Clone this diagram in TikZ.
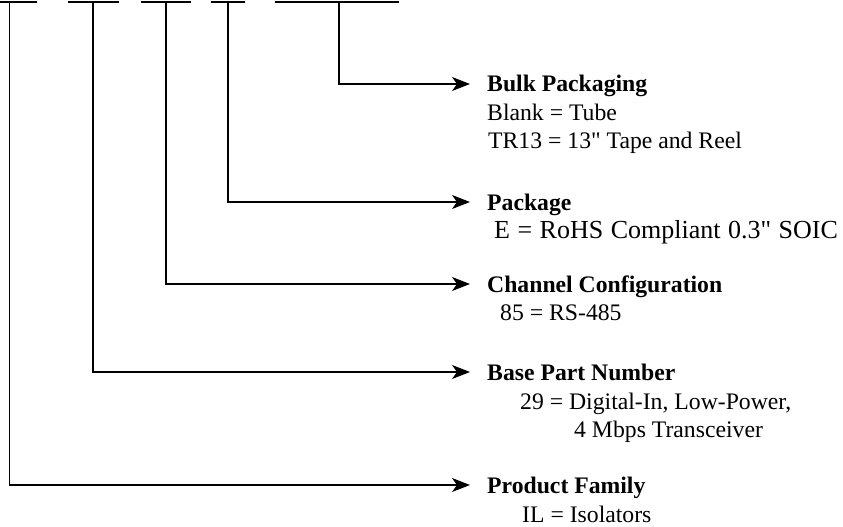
\documentclass[tikz,border=0pt]{standalone}
\usepackage{fontspec}
\setmainfont{Liberation Serif}[Ligatures=TeXOff]
\usetikzlibrary{arrows.meta}
\begin{document}
\begin{tikzpicture}[x=1pt,y=-1pt,
  lead/.style={line width=1.3pt,line cap=butt},
  conn/.style={line width=1.3pt,-{Stealth[length=18pt,width=14pt,inset=5pt]}},
  title/.style={anchor=base west,inner sep=0pt,font=\fontsize{23.7}{28}\selectfont\bfseries},
  desc/.style={anchor=base west,inner sep=0pt,font=\fontsize{23.7}{28}\selectfont}]
\useasboundingbox (0,0) rectangle (843,527);
% part-number blanks
\draw[lead] (0,2) -- (37,2);
\draw[lead] (68,2) -- (119,2);
\draw[lead] (141,2) -- (191,2);
\draw[lead] (211,2) -- (245,2);
\draw[lead] (275,2) -- (399,2);
\coordinate (u1) at (9.5,2);
\coordinate (u2) at (93,2);
\coordinate (u3) at (166,2);
\coordinate (u4) at (228,2);
\coordinate (u5) at (339,2);
% labels
\node[title] (bulk) at (487,92) {Bulk Packaging};
\node[desc] (bulkA) at (487,120) {Blank = Tube};
\node[desc] (bulkB) at (488,148) {TR13 = 13" Tape and Reel};
\node[title] (pkg) at (487,210) {Package};
\node[desc] (pkgA) at (494,238) {\fontsize{26}{28}\selectfont\spaceskip=7.5pt E = RoHS Compliant 0.3" SOIC};
\node[title] (chan) at (487,292) {Channel Configuration};
\node[desc] (chanA) at (500,320) {85 = RS-485};
\node[title] (base) at (487,380) {Base Part Number};
\node[desc] (baseA) at (520,409) {29 = Digital-In, Low-Power,};
\node[desc] (baseB) at (574,437) {4 Mbps Transceiver};
\node[title] (fam) at (487,493) {Product Family};
\node[desc] (famA) at (522,522) {IL = Isolators};
% arrow ends
\coordinate (t1) at ([xshift=-17pt,yshift=8pt]bulk.base west);
\coordinate (t2) at ([xshift=-17pt,yshift=8pt]pkg.base west);
\coordinate (t3) at ([xshift=-17pt,yshift=8pt]chan.base west);
\coordinate (t4) at ([xshift=-17pt,yshift=8pt]base.base west);
\coordinate (t5) at ([xshift=-17pt,yshift=8pt]fam.base west);
\draw[conn] (u5) |- (t1);
\draw[conn] (u4) |- (t2);
\draw[conn] (u3) |- (t3);
\draw[conn] (u2) |- (t4);
\draw[conn] (u1) |- (t5);
\end{tikzpicture}
\end{document}
